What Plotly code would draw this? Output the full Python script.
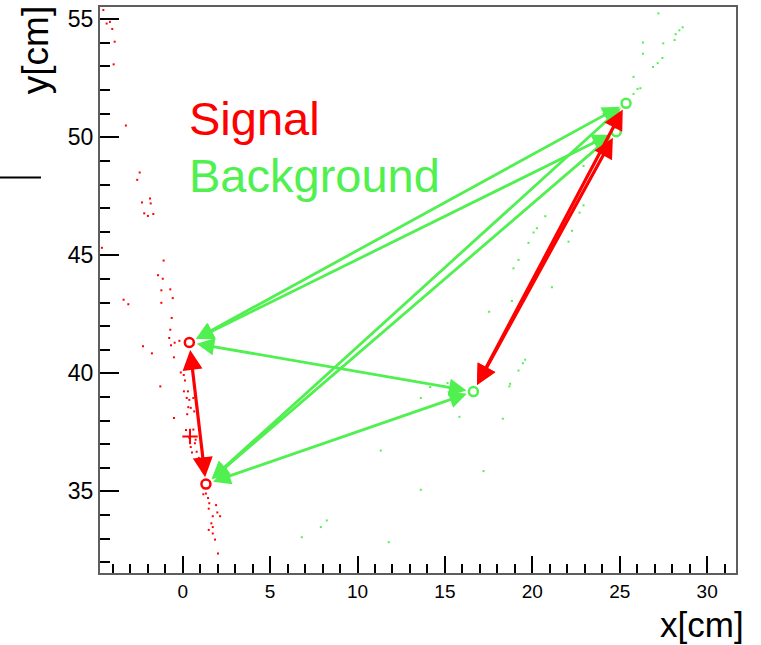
import plotly.graph_objects as go

FONT = "Liberation Sans, Arial, Helvetica, sans-serif"
RED = "#ff0000"
GREEN = "#4ff04f"

# ---- hit clouds [cm] ----
sig_hits_x = [-4.54, -4.35, -4.16, -4.03, -3.89, -3.95, -3.25, -2.46, -2.60, -2.33,
              -1.87, -1.83, -2.20, -1.99, -1.68, -4.62, -1.09, -1.41, -1.14, -1.22,
              -0.71, -0.57, -1.22, -3.38, -3.11, -0.63, -0.71, -0.77, -0.46, -0.19,
              -0.67, -2.27, -1.76, -0.50, -0.11, 0.06, 0.13, -1.28, 0.07, 0.30,
              0.23, 0.38, 0.61, 0.32, 0.46, 0.26, 0.66, -0.50, 0.19, 0.61,
              0.38, 0.74, 0.46, 0.70, 0.53, 0.80, 0.92, 0.99, 1.33, 1.45,
              1.18, 1.52, 1.49, 1.91, 1.98, 2.14, 1.72, 1.64, 1.72, 1.49,
              1.72, 1.85, 2.02]
sig_hits_y = [55.39, 54.82, 54.89, 54.59, 54.05, 53.09, 50.50, 48.51, 48.20, 47.24,
              47.41, 47.20, 46.78, 46.67, 46.75, 45.32, 44.78, 44.16, 44.01, 43.52,
              43.56, 43.19, 42.99, 43.12, 42.93, 42.35, 41.85, 41.50, 41.30, 41.38,
              41.19, 41.15, 40.85, 40.68, 40.04, 39.93, 39.70, 39.45, 39.24, 39.24,
              38.96, 38.88, 38.96, 38.57, 38.54, 38.27, 38.39, 38.11, 37.60, 37.62,
              37.27, 37.19, 36.88, 37.04, 36.65, 36.68, 36.42, 36.14, 34.91, 34.72,
              34.88, 34.50, 34.27, 34.42, 34.11, 33.95, 33.95, 33.65, 33.49, 33.37,
              33.22, 32.96, 32.37]

bkg_hits_x = [27.21, 28.60, 28.41, 28.20, 28.14, 26.33, 27.49, 26.33, 27.44, 27.17,
              26.90, 25.79, 26.18, 26.02, 25.79, 23.31, 22.93, 22.93, 22.70, 20.74,
              20.26, 20.07, 19.78, 22.27, 22.07, 19.21, 18.92, 21.12, 18.83, 17.53,
              19.59, 19.46, 19.21, 18.73, 18.69, 15.15, 14.16, 13.62, 15.83, 18.31,
              11.33, 17.21, 13.62, 8.24, 7.90, 11.79, 6.81]
bkg_hits_y = [55.25, 54.66, 54.53, 54.37, 54.12, 54.02, 53.98, 53.54, 53.36, 53.14,
              52.98, 52.56, 52.08, 52.05, 51.84, 48.27, 48.79, 47.12, 46.81, 46.66,
              46.15, 45.97, 45.53, 46.04, 45.58, 44.81, 44.45, 43.65, 43.07, 42.61,
              40.58, 40.43, 40.12, 39.56, 39.45, 39.59, 39.42, 38.96, 38.16, 38.08,
              36.73, 35.86, 35.07, 33.77, 33.49, 32.85, 33.06]

# ---- reconstructed vertices [cm] ----
sig_vtx_x = [0.38, 1.33]
sig_vtx_y = [41.31, 35.31]
bkg_vtx_x = [25.36, 24.80, 16.63]
bkg_vtx_y = [51.44, 50.24, 39.23]
seed_x = [0.42]
seed_y = [37.33]

# ---- vertex pairings: (from, to) as (group, index) ----
sig_links = [(("s", 0), ("s", 1)),
             (("b", 2), ("b", 0)),
             (("b", 2), ("b", 1))]
bkg_links = [(("s", 0), ("b", 0)), (("s", 0), ("b", 1)), (("s", 0), ("b", 2)),
             (("s", 1), ("b", 0)), (("s", 1), ("b", 1)), (("s", 1), ("b", 2))]


def vtx(ref):
    grp, i = ref
    if grp == "s":
        return sig_vtx_x[i], sig_vtx_y[i]
    return bkg_vtx_x[i], bkg_vtx_y[i]


def link(a, b, color, width):
    (x0, y0), (x1, y1) = vtx(a), vtx(b)
    return dict(x=x1, y=y1, ax=x0, ay=y0, xref="x", yref="y", axref="x", ayref="y",
                text="", showarrow=True, arrowside="end+start",
                arrowhead=2, startarrowhead=2, arrowsize=1.25, startarrowsize=1.25,
                arrowwidth=width, arrowcolor=color, standoff=7, startstandoff=7,
                font=dict(size=1), borderpad=0)


fig = go.Figure()

fig.add_trace(go.Scatter(x=sig_hits_x, y=sig_hits_y, mode="markers",
                         marker=dict(symbol="square", size=2, color=RED), hoverinfo="skip"))
fig.add_trace(go.Scatter(x=bkg_hits_x, y=bkg_hits_y, mode="markers",
                         marker=dict(symbol="square", size=2, color=GREEN), hoverinfo="skip"))
fig.add_trace(go.Scatter(x=seed_x, y=seed_y, mode="markers",
                         marker=dict(symbol="cross-thin-open", size=11, color=RED,
                                     line=dict(color=RED, width=2))))
fig.add_trace(go.Scatter(x=sig_vtx_x, y=sig_vtx_y, mode="markers",
                         marker=dict(symbol="circle-open", size=9, color=RED,
                                     line=dict(color=RED, width=2.5))))
fig.add_trace(go.Scatter(x=bkg_vtx_x, y=bkg_vtx_y, mode="markers",
                         marker=dict(symbol="circle-open", size=9, color=GREEN,
                                     line=dict(color=GREEN, width=2.5))))

annotations = [link(a, b, GREEN, 2.8) for a, b in bkg_links]
annotations += [link(a, b, RED, 3.2) for a, b in sig_links]

# legend-style labels
annotations.append(dict(x=0.30, y=50.78, xref="x", yref="y", xanchor="left", yanchor="middle",
                        text="Signal", showarrow=False, borderpad=0,
                        font=dict(family=FONT, size=47, color=RED)))
annotations.append(dict(x=0.30, y=48.39, xref="x", yref="y", xanchor="left", yanchor="middle",
                        text="Background", showarrow=False, borderpad=0,
                        font=dict(family=FONT, size=47, color=GREEN)))

# axis titles
annotations.append(dict(x=1.0146, y=-0.0906, xref="paper", yref="paper",
                        xanchor="right", yanchor="middle", text="x[cm]", showarrow=False,
                        borderpad=0, font=dict(family=FONT, size=35, color="black")))
annotations.append(dict(x=-0.1019, y=0.924, xref="paper", yref="paper",
                        xanchor="center", yanchor="middle", text="y[cm]", textangle=-90,
                        showarrow=False, borderpad=0,
                        font=dict(family=FONT, size=37, color="black")))

fig.update_layout(
    template="none",
    width=761, height=645,
    margin=dict(l=100, r=25, t=7, b=72),
    paper_bgcolor="white", plot_bgcolor="white",
    showlegend=False,
    font=dict(family=FONT, color="black"),
    annotations=annotations,
    shapes=[dict(type="line", xref="paper", yref="paper",
                 x0=-0.1573, x1=-0.0928, y0=0.6986, y1=0.6986,
                 line=dict(color="black", width=2))],
)

fig.update_xaxes(range=[-4.73, 31.65], dtick=5,
                 ticks="inside", ticklen=17, tickwidth=2, tickcolor="black",
                 minor=dict(ticks="inside", ticklen=9, dtick=1),
                 showgrid=False, zeroline=False, showline=True, linecolor="#5e5e5e",
                 linewidth=2, mirror=True,
                 tickfont=dict(size=19, family=FONT, color="black"))
fig.update_yaxes(range=[31.545, 55.52], dtick=5,
                 ticks="inside", ticklen=19, tickwidth=2, tickcolor="black",
                 minor=dict(ticks="inside", ticklen=10, dtick=1),
                 showgrid=False, zeroline=False, showline=True, linecolor="#5e5e5e",
                 linewidth=2, mirror=True,
                 tickfont=dict(size=23, family=FONT, color="black"))

fig.write_html("out.html")
